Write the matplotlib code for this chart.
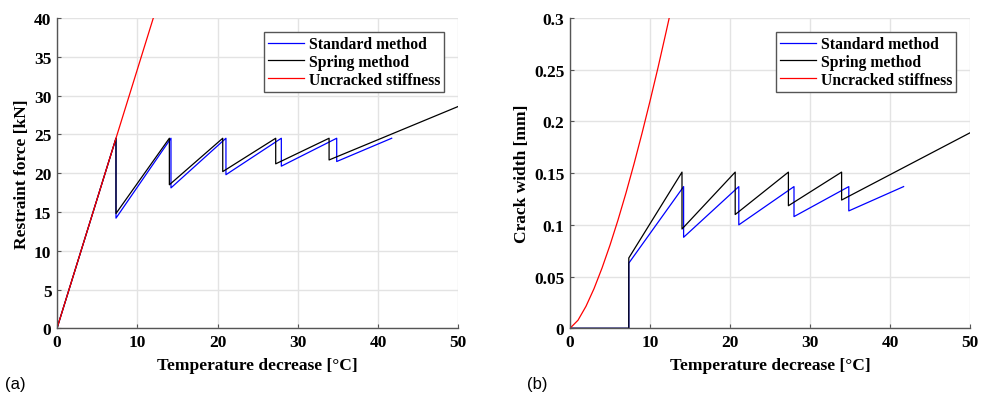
import matplotlib
matplotlib.use("Agg")
import matplotlib.pyplot as plt

# ---- data (a): restraint force ----
std_force_x = [0, 7.35, 7.35, 14.2, 14.2, 21.05, 21.05, 27.95, 27.95, 34.85, 34.85, 41.7]
std_force_y = [0, 24.5, 14.2, 24.5, 18.1, 24.5, 19.8, 24.5, 20.9, 24.5, 21.5, 24.5]
spr_force_x = [0, 7.35, 7.35, 14.0, 14.0, 20.65, 20.65, 27.25, 27.25, 33.9, 33.9, 50]
spr_force_y = [0, 24.5, 14.8, 24.5, 18.5, 24.5, 20.2, 24.5, 21.2, 24.5, 21.7, 28.6]
unc_force_x = [0, 12.0]
unc_force_y = [0, 40.0]

# ---- data (b): crack width ----
std_crack_x = [0, 7.35, 7.35, 14.2, 14.2, 21.1, 21.1, 28.0, 28.0, 34.85, 34.85, 41.7]
std_crack_y = [0, 0, 0.063, 0.137, 0.088, 0.137, 0.100, 0.137, 0.108, 0.137, 0.1135, 0.137]
spr_crack_x = [0, 7.35, 7.35, 14.0, 14.0, 20.65, 20.65, 27.3, 27.3, 33.95, 33.95, 50]
spr_crack_y = [0, 0, 0.068, 0.151, 0.096, 0.151, 0.110, 0.151, 0.1185, 0.151, 0.124, 0.189]
unc_crack_x = [0, 1, 2, 3, 4, 5, 6, 7, 8, 9, 10, 11, 12, 12.4]
unc_crack_y = [0, 0.0078, 0.0213, 0.0383, 0.0582, 0.0804, 0.1047, 0.1309,
               0.1589, 0.1885, 0.2196, 0.252, 0.2861, 0.3]

labels = ["Standard method", "Spring method", "Uncracked stiffness"]
xlabel = "Temperature decrease [°C]"
ylabels = ["Restraint force [kN]", "Crack width [mm]"]
xticks = [0, 10, 20, 30, 40, 50]
yticks_a = [0, 5, 10, 15, 20, 25, 30, 35, 40]
yticks_b = [0, 0.05, 0.1, 0.15, 0.2, 0.25, 0.3]
ytick_labels_b = ["0", "0.05", "0.1", "0.15", "0.2", "0.25", "0.3"]

serif = ["Liberation Serif", "DejaVu Serif"]
plt.rcParams["font.family"] = serif
plt.rcParams["font.weight"] = "bold"
FS = 12.5

fig = plt.figure(figsize=(9.82, 4.06), dpi=100)
ax_a = fig.add_axes([57/982, 1-329.3/406, (458.3-57)/982, (329.3-19)/406])
ax_b = fig.add_axes([570/982, 1-329.3/406, (970-570)/982, (329.3-19)/406])

spine_c = "#555555"
grid_c = "#e3e3e3"


def style(ax, yt, ylim, ylab, ytl=None):
    ax.set_xlim(0, 50)
    ax.set_ylim(*ylim)
    ax.set_xticks(xticks)
    ax.set_yticks(yt)
    if ytl is not None:
        ax.set_yticklabels(ytl)
    ax.grid(True, color=grid_c, linewidth=1.0)
    ax.set_axisbelow(True)
    for s in ["top", "right"]:
        ax.spines[s].set_visible(False)
    for s in ["left", "bottom"]:
        ax.spines[s].set_color(spine_c)
        ax.spines[s].set_linewidth(1.0)
    ax.tick_params(direction="in", length=3, color=spine_c, labelsize=FS,
                   labelcolor="black")
    ax.tick_params(axis="x", pad=4)
    ax.tick_params(axis="y", pad=4)
    ax.set_xlabel(xlabel, fontsize=FS, labelpad=5, fontweight="bold")
    ax.set_ylabel(ylab, fontsize=FS, labelpad=3, fontweight="bold")


lw = 0.9
ax_a.plot(std_force_x, std_force_y, color="#0000ff", lw=lw, label=labels[0])
ax_a.plot(spr_force_x, spr_force_y, color="black", lw=lw, label=labels[1])
ax_a.plot(unc_force_x, unc_force_y, color="#ff0000", lw=lw, label=labels[2])
style(ax_a, yticks_a, (0, 40), ylabels[0])

ax_b.plot(std_crack_x, std_crack_y, color="#0000ff", lw=lw, label=labels[0])
ax_b.plot(spr_crack_x, spr_crack_y, color="black", lw=lw, label=labels[1])
ax_b.plot(unc_crack_x, unc_crack_y, color="#ff0000", lw=lw, label=labels[2])
style(ax_b, yticks_b, (0, 0.3), ylabels[1], ytick_labels_b)

for ax in (ax_a, ax_b):
    leg = ax.legend(loc="upper right", frameon=True, fancybox=False,
                    prop={"family": serif, "weight": "bold", "size": 11.3},
                    framealpha=1, edgecolor="#555555", borderaxespad=0.9,
                    handlelength=2.3, handletextpad=0.3, labelspacing=0.12,
                    borderpad=0.25)
    leg.get_frame().set_linewidth(1.0)

fig.text(5/982, 1-385/406, "(a)", fontsize=12, family=["Liberation Sans"],
         fontweight="normal", va="center")
fig.text(527/982, 1-385/406, "(b)", fontsize=12, family=["Liberation Sans"],
         fontweight="normal", va="center")

fig.savefig("out.png", dpi=100)
